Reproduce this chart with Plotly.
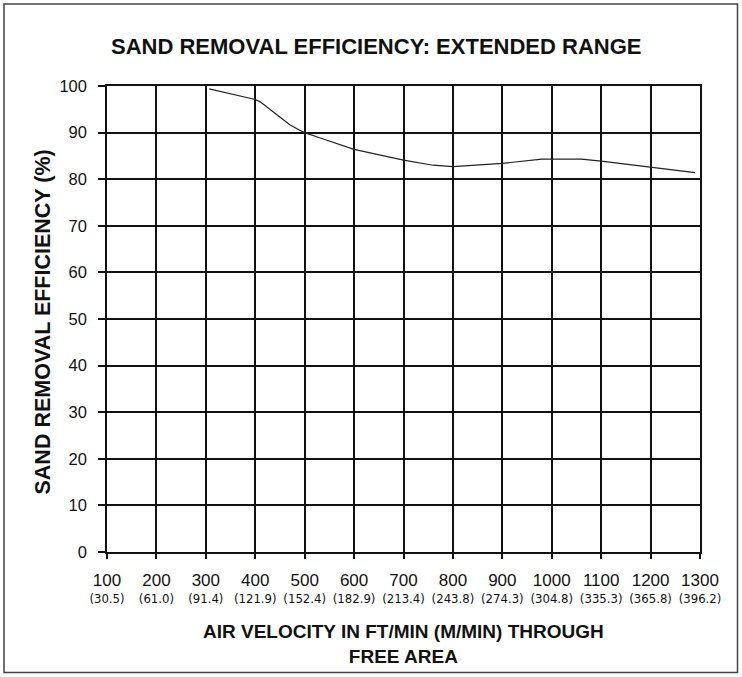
import plotly.graph_objects as go

# Data
velocity_fpm = [307, 350, 400, 410, 430, 450, 470, 490, 500, 530, 600, 700, 760, 800, 900, 980, 1000, 1060, 1100, 1200, 1290]
efficiency_pct = [99.4, 98.3, 97.1, 96.6, 95.0, 93.2, 91.7, 90.5, 90.0, 88.9, 86.4, 84.1, 83.0, 82.7, 83.4, 84.3, 84.3, 84.3, 83.9, 82.6, 81.4]

x_ticks_fpm = [100, 200, 300, 400, 500, 600, 700, 800, 900, 1000, 1100, 1200, 1300]
x_ticks_mpm = ["30.5", "61.0", "91.4", "121.9", "152.4", "182.9", "213.4", "243.8", "274.3", "304.8", "335.3", "365.8", "396.2"]
y_ticks = [0, 10, 20, 30, 40, 50, 60, 70, 80, 90, 100]

title_text = "SAND REMOVAL EFFICIENCY: EXTENDED RANGE"
x_title = "AIR VELOCITY IN FT/MIN (M/MIN) THROUGH<br>FREE AREA"
y_title = "SAND REMOVAL EFFICIENCY (%)"

FONT = "Liberation Sans, Arial, sans-serif"
NARROW = "Liberation Sans Narrow, Arial Narrow, DejaVu Sans Condensed, Liberation Sans, sans-serif"
INK = "#111111"

fig = go.Figure()
fig.add_trace(go.Scatter(
    x=velocity_fpm, y=efficiency_pct, mode="lines",
    line=dict(color="#222222", width=1.2),
    showlegend=False, hoverinfo="x+y",
))
# invisible companion trace so the metric (m/min) label axis is drawn
fig.add_trace(go.Scatter(
    x=velocity_fpm, y=efficiency_pct, mode="lines", xaxis="x2",
    line=dict(color="rgba(0,0,0,0)", width=0),
    showlegend=False, hoverinfo="skip",
))

W, H = 742, 677
L, R, T, B = 107, 42, 86, 125
PW, PH = W - L - R, H - T - B

common = dict(showgrid=True, gridcolor=INK, gridwidth=1.5, zeroline=False, fixedrange=True)

fig.update_layout(
    width=W, height=H,
    margin=dict(l=L, r=R, t=T, b=B, pad=0),
    paper_bgcolor="white", plot_bgcolor="white",
    font=dict(family=FONT, color=INK),
    xaxis=dict(
        range=[100, 1300], tickmode="array", tickvals=x_ticks_fpm,
        ticktext=[str(v) for v in x_ticks_fpm],
        showline=True, linecolor=INK, linewidth=1.5, mirror=True,
        ticks="outside", ticklen=5, tickcolor=INK, tickwidth=1.5,
        ticklabelstandoff=7,
        tickfont=dict(size=17, family=FONT, color=INK),
        **common,
    ),
    xaxis2=dict(
        range=[100, 1300], overlaying="x", side="bottom", anchor="y",
        tickmode="array", tickvals=x_ticks_fpm,
        ticktext=[f"({m})" for m in x_ticks_mpm],
        showgrid=False, showline=False, zeroline=False, ticks="",
        ticklabelstandoff=37,
        tickfont=dict(size=13, family=NARROW, color=INK), fixedrange=True,
    ),
    yaxis=dict(
        range=[0, 100], tickmode="array", tickvals=y_ticks,
        showline=True, linecolor=INK, linewidth=1.5, mirror=True,
        ticks="outside", ticklen=7, tickcolor=INK, tickwidth=1.5,
        ticklabelstandoff=8,
        tickfont=dict(size=16.5, family=FONT, color=INK),
        **common,
    ),
    annotations=[
        dict(text=f"<b>{title_text}</b>", xref="paper", yref="paper",
             x=(376 - L) / PW, y=1, yshift=T - 46.5, xanchor="center", yanchor="middle",
             showarrow=False, font=dict(size=22, family=FONT, color=INK)),
        dict(text=f"<b>{y_title}</b>", xref="paper", yref="paper",
             x=0, xshift=42.5 - L, y=0.5, yshift=-3, xanchor="center", yanchor="middle",
             textangle=-90, showarrow=False,
             font=dict(size=21.5, family=FONT, color=INK)),
        dict(text=f"<b>{x_title}</b>", xref="paper", yref="paper",
             x=0.5, y=0, yshift=-(644 - (H - B)), xanchor="center", yanchor="middle",
             showarrow=False, font=dict(size=19, family=FONT, color=INK)),
    ],
    shapes=[
        dict(type="rect", xref="paper", yref="paper",
             x0=(4 - L) / PW, x1=(737.5 - L) / PW,
             y0=((H - B) - 672.5) / PH, y1=((H - B) - 4) / PH,
             line=dict(color="#444444", width=1.5), fillcolor="rgba(0,0,0,0)", layer="below"),
    ],
)

fig.write_html("out.html", config={"displayModeBar": False},
               post_script="document.body.style.margin='0';document.body.style.overflow='hidden';")
